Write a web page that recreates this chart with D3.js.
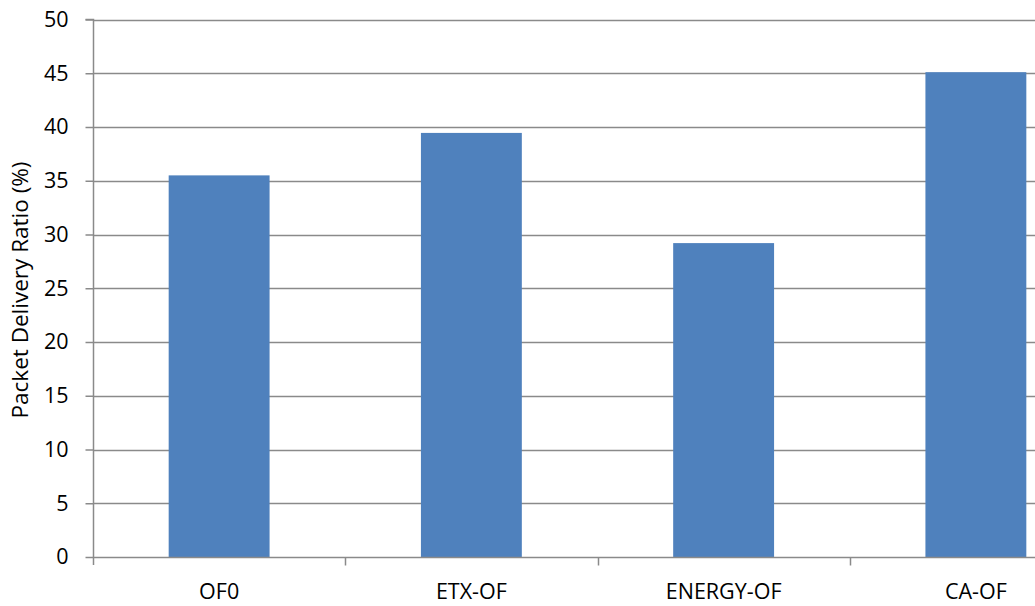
<!DOCTYPE html>
<html>
<head>
<meta charset="utf-8">
<script src="https://cdn.jsdelivr.net/npm/d3@7"></script>
<style>
  html, body { margin: 0; padding: 0; background: #fff; overflow: hidden; }
  svg { display: block; }
  text { font-family: "Open Sans", sans-serif; fill: #000; }
</style>
</head>
<body>
<svg id="chart" width="1035" height="606"></svg>
<script>
const categories = ["OF0", "ETX-OF", "ENERGY-OF", "CA-OF"];
const values = [35.5, 39.45, 29.2, 45.1];
const yTicks = [0, 5, 10, 15, 20, 25, 30, 35, 40, 45, 50];
const yLabel = "Packet Delivery Ratio (%)";

const FONT = "'Open Sans', sans-serif";
const svg = d3.select("#chart");
const mLeft = 93, mRight = 1102, mTop = 19.5, mBottom = 557;

const x = d3.scaleBand().domain(categories).range([mLeft, mRight])
  .paddingInner(0.6).paddingOuter(0.3);
const step = x.step();
const y = d3.scaleLinear().domain([0, 50]).range([mBottom, mTop]);

// gridlines
svg.append("g").selectAll("line").data(yTicks.filter(d => d > 0)).join("line")
  .attr("x1", mLeft).attr("x2", 1035)
  .attr("y1", d => Math.round(y(d)) + 0.5).attr("y2", d => Math.round(y(d)) + 0.5)
  .attr("stroke", "#8a8a8a").attr("stroke-width", 1.5);

// bars
svg.append("g").selectAll("rect").data(categories).join("rect")
  .attr("x", d => x(d))
  .attr("width", x.bandwidth())
  .attr("y", (d, i) => y(values[i]))
  .attr("height", (d, i) => y(0) - y(values[i]))
  .attr("fill", "#4f81bd");

// y axis
const yAxis = d3.axisLeft(y).tickValues(yTicks).tickSize(8).tickPadding(17);
const gy = svg.append("g").attr("transform", `translate(${mLeft + 0.5},0)`).call(yAxis);
gy.select(".domain").attr("stroke", "#8a8a8a").attr("stroke-width", 1.5)
  .attr("d", `M-8,${y(50)}H0V${mBottom + 8}`);
gy.selectAll(".tick line").attr("stroke", "#8a8a8a").attr("stroke-width", 1.5);
gy.selectAll(".tick text").style("font-size", "21.5px").style("font-family", FONT).attr("fill", "#000");

// x axis
const xAxis = d3.axisBottom(x).tickSize(0).tickPadding(26);
const gx = svg.append("g").attr("transform", `translate(0,${mBottom + 0.5})`).call(xAxis);
gx.select(".domain").attr("stroke", "#8a8a8a").attr("stroke-width", 1.5)
  .attr("d", `M${mLeft},0H1035`);
gx.selectAll(".tick text").style("font-size", "21.5px").style("font-family", FONT).attr("fill", "#000");
// category separator ticks
const sepPos = categories.map((d, i) => mLeft + i * step).concat([mLeft + categories.length * step]);
gx.append("g").selectAll("line").data(sepPos.slice(1)).join("line")
  .attr("x1", d => Math.round(d) + 0.5).attr("x2", d => Math.round(d) + 0.5)
  .attr("y1", 0).attr("y2", 8)
  .attr("stroke", "#8a8a8a").attr("stroke-width", 1.5);

// y label
svg.append("text")
  .attr("transform", `translate(28,${(155 + 425) / 2}) rotate(-90)`)
  .attr("text-anchor", "middle")
  .style("font-size", "22.5px")
  .style("font-family", FONT)
  .text(yLabel);
</script>
</body>
</html>
